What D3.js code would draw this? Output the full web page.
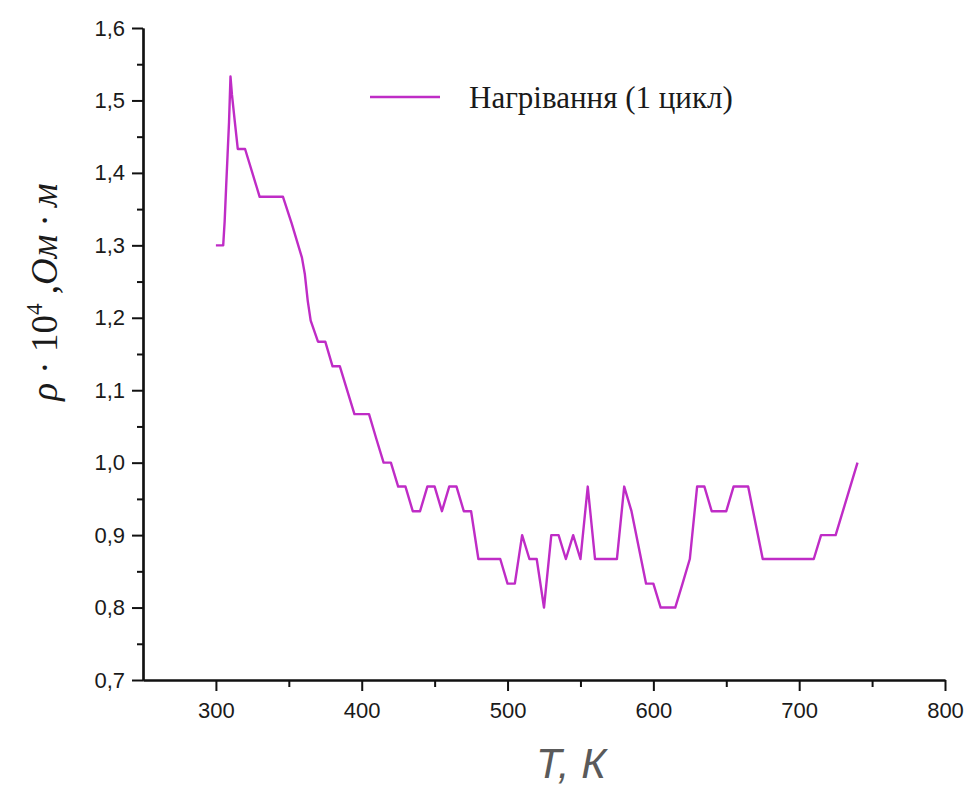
<!DOCTYPE html>
<html>
<head>
<meta charset="utf-8">
<script src="https://cdn.jsdelivr.net/npm/d3@7"></script>
<style>
	body { margin: 0; background: #fff; }
	.tick text { font-family: "Liberation Sans", Arial, sans-serif; font-size: 22px; fill: #1a1a1a; }
</style>
</head>
<body>
<div class="thegraph"></div>
<script>
// temperature, K
var temps = [300, 305, 306, 307, 308, 309, 310, 311, 313, 315, 320, 330, 346, 352, 359, 361, 363, 365,
             370, 375, 380, 385, 395, 405, 410, 415, 420, 425, 430, 435, 440, 445, 450, 455, 460, 465,
             470, 475, 480, 495, 500, 505, 510, 515, 520, 525, 530, 535, 540, 545, 550, 555, 560, 575,
             580, 585, 595, 600, 605, 615, 620, 625, 630, 635, 640, 650, 655, 665, 675, 710, 715, 725, 740];
// resistivity rho*10^4, Ohm*m
var rho = [1.300, 1.300, 1.333, 1.380, 1.425, 1.470, 1.533, 1.508, 1.470, 1.433, 1.433, 1.367, 1.367, 1.330, 1.283, 1.260, 1.223, 1.196,
           1.167, 1.167, 1.133, 1.133, 1.067, 1.067, 1.033, 1.000, 1.000, 0.967, 0.967, 0.933, 0.933, 0.967, 0.967, 0.933, 0.967, 0.967,
           0.933, 0.933, 0.867, 0.867, 0.833, 0.833, 0.900, 0.867, 0.867, 0.800, 0.900, 0.900, 0.867, 0.900, 0.867, 0.967, 0.867, 0.867,
           0.967, 0.933, 0.833, 0.833, 0.800, 0.800, 0.833, 0.867, 0.967, 0.967, 0.933, 0.933, 0.967, 0.967, 0.867, 0.867, 0.900, 0.900, 1.000];
var xTicks = [300, 400, 500, 600, 700, 800];
var xMinor = [350, 450, 550, 650, 750];
var yTicks = [0.7, 0.8, 0.9, 1.0, 1.1, 1.2, 1.3, 1.4, 1.5, 1.6];
var yMinor = [0.75, 0.85, 0.95, 1.05, 1.15, 1.25, 1.35, 1.45, 1.55];
var seriesName = "Нагрівання (1 цикл)";

var w = 973;
var h = 791;
var padL = 143, padR = 945, padT = 28, padB = 680;
var lineColor = "#bf2cc6";

var svg = d3.select(".thegraph").append("svg")
	.attr("width", w)
	.attr("height", h)
	;

var x = d3.scaleLinear().domain([250, 800]).range([padL, padR]);
var y = d3.scaleLinear().domain([0.7, 1.6]).range([padB, padT]);

var comma = function(d) { return d3.format(".1f")(d).replace(".", ","); };

// minor ticks first, majors on top
svg.append("g")
	.attr("transform", "translate(0," + padB + ")")
	.call(d3.axisBottom(x).tickValues(xMinor).tickSize(7).tickFormat("").tickSizeOuter(0))
	;
svg.append("g")
	.attr("transform", "translate(" + padL + ",0)")
	.call(d3.axisLeft(y).tickValues(yMinor).tickSize(6).tickFormat("").tickSizeOuter(0))
	;
var xAxis = svg.append("g")
	.attr("transform", "translate(0," + padB + ")")
	.call(d3.axisBottom(x).tickValues(xTicks).tickSize(11).tickPadding(8).tickSizeOuter(0).tickFormat(d3.format("d")))
	;
var yAxis = svg.append("g")
	.attr("transform", "translate(" + padL + ",0)")
	.call(d3.axisLeft(y).tickValues(yTicks).tickSize(11).tickPadding(7).tickSizeOuter(0).tickFormat(comma))
	;
svg.selectAll(".domain").attr("stroke", "#111").attr("stroke-width", 2.2);
svg.selectAll(".tick line").attr("stroke", "#111").attr("stroke-width", 2);
xAxis.selectAll(".tick text").attr("dy", "0.85em");

var pts = temps.map(function(t, i) { return [t, rho[i]]; });
var line = d3.line()
	.x(function(d) { return x(d[0]); })
	.y(function(d) { return y(d[1]); })
	;
svg.append("path")
	.datum(pts)
	.attr("d", line)
	.attr("fill", "none")
	.attr("stroke", lineColor)
	.attr("stroke-width", 2.4)
	.attr("stroke-linejoin", "round")
	;

// legend
svg.append("line")
	.attr("x1", 370).attr("x2", 440)
	.attr("y1", 97).attr("y2", 97)
	.attr("stroke", lineColor)
	.attr("stroke-width", 2.4)
	;
svg.append("text")
	.attr("x", 469).attr("y", 108)
	.attr("font-family", "'Liberation Serif', 'Times New Roman', serif")
	.attr("font-size", "31px")
	.attr("fill", "#1a1a1a")
	.text(seriesName)
	;

// axis titles
svg.append("text")
	.attr("x", 571).attr("y", 778)
	.attr("text-anchor", "middle")
	.attr("font-family", "'Liberation Sans Narrow', 'Liberation Sans', sans-serif")
	.attr("font-style", "italic")
	.attr("font-size", "42px")
	.attr("fill", "#5a5a5a")
	.text("T, К")
	;
var ylab = svg.append("text")
	.attr("transform", "translate(57,292) rotate(-90)")
	.attr("text-anchor", "middle")
	.attr("font-family", "'Liberation Serif', 'Times New Roman', serif")
	.attr("font-size", "37px")
	.attr("fill", "#1a1a1a")
	;
ylab.append("tspan").attr("font-style", "italic").text("ρ");
ylab.append("tspan").text(" · 10");
ylab.append("tspan").attr("font-size", "23px").attr("dy", "-15").text("4");
ylab.append("tspan").attr("dy", "15").text(" ,");
ylab.append("tspan").attr("font-style", "italic").text("Ом · м");
</script>
</body>
</html>
